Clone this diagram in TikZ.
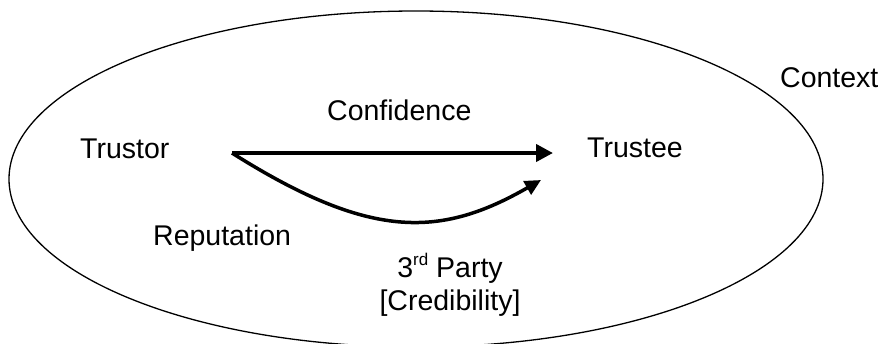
\documentclass[tikz,border=0pt]{standalone}
\usepackage{fontspec}
\setmainfont{Liberation Sans}
\usetikzlibrary{arrows.meta}
\newcommand{\supsmall}[1]{\raisebox{0.4em}{\fontsize{17}{17}\selectfont #1}}
\begin{document}
\begin{tikzpicture}[x=1pt,y=-1pt,
  lbl/.style={inner sep=0pt,anchor=base west,font=\fontsize{28.5}{33}\selectfont},
  thick arrow/.style={line width=4pt,-{Triangle[length=17pt,width=17pt]}},
  curve arrow/.style={line width=3.5pt,-{Triangle[length=16pt,width=15pt]}}]
  \useasboundingbox (0,0) rectangle (884,343);
  % context boundary
  \draw[line width=1.3pt] (416,179) ellipse [x radius=407, y radius=168];
  % labels
  \node[lbl] (trustor) at (80,158) {Trustor};
  \node[lbl] (trustee) at (587,157) {Trustee};
  \node[lbl] (confidence) at (327,120) {Confidence};
  \node[lbl] (reputation) at (153,245) {Reputation};
  \node[lbl] (context) at (780,87) {Context};
  \node[lbl,anchor=base] (party) at (450,277) {3\supsmall{rd} Party};
  \node[lbl,anchor=base] (cred) at (450,310) {[Credibility]};
  % arrow end points
  \coordinate (src) at (232,153);
  \coordinate (dst) at (553,153);
  \coordinate (dst2) at (541,180);
  \draw[thick arrow] (src) -- (dst);
  \draw[curve arrow] (src) .. controls (370,240) and (440,238) .. (dst2);
\end{tikzpicture}
\end{document}
